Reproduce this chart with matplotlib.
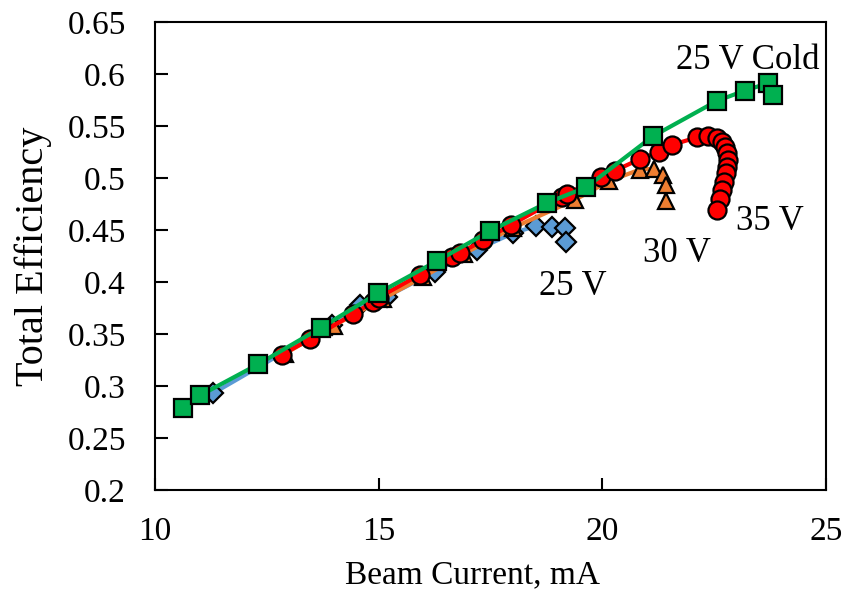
import matplotlib
matplotlib.use("Agg")
import matplotlib.pyplot as plt

plt.rcParams["font.family"] = ["Liberation Serif", "DejaVu Serif"]

# 25 V (blue diamonds)
i25 = [11.30, 13.95, 14.58, 15.18, 16.26, 17.19, 18.01, 18.53, 18.87, 19.17, 19.19]
e25 = [0.293, 0.359, 0.378, 0.386, 0.410, 0.431, 0.447, 0.454, 0.453, 0.452, 0.438]

# 30 V (orange triangles)
i30 = [12.90, 14.00, 15.10, 16.00, 16.90, 18.00, 19.39, 20.15, 20.84, 21.16, 21.36, 21.42, 21.42]
e30 = [0.331, 0.358, 0.384, 0.405, 0.427, 0.452, 0.479, 0.497, 0.508, 0.509, 0.503, 0.493, 0.478]

# 35 V (red circles)
i35 = [12.83, 13.47, 14.43, 14.88, 15.00, 15.92, 16.63, 16.82, 17.34, 17.97, 19.09, 19.22,
       19.98, 20.28, 20.84, 21.27, 21.57, 22.12, 22.37, 22.56, 22.67, 22.74, 22.79, 22.81,
       22.79, 22.77, 22.72, 22.67, 22.63, 22.57]
e35 = [0.330, 0.345, 0.369, 0.381, 0.385, 0.407, 0.424, 0.428, 0.440, 0.455, 0.482, 0.485,
       0.501, 0.507, 0.518, 0.525, 0.532, 0.539, 0.540, 0.538, 0.535, 0.530, 0.524, 0.517,
       0.511, 0.505, 0.496, 0.488, 0.480, 0.469]

# 25 V Cold (green squares)
icold = [10.63, 11.01, 12.31, 13.71, 14.98, 16.30, 17.49, 18.76, 19.64, 21.13, 22.56, 23.19, 23.70, 23.81]
ecold = [0.279, 0.291, 0.321, 0.356, 0.389, 0.420, 0.449, 0.476, 0.491, 0.540, 0.574, 0.584, 0.591, 0.580]

fig = plt.figure(figsize=(8.47, 5.93), dpi=100)
ax = fig.add_axes([0.183, 0.1737, 0.792, 0.7893])

ax.plot(i25, e25, color="#5B9BD5", lw=3, marker="D", ms=10.5, mfc="#5B9BD5", mec="black", mew=1.6)
ax.plot(i30, e30, color="#ED7D31", lw=3, marker="^", ms=12, mfc="#ED7D31", mec="black", mew=1.6)
ax.plot(i35, e35, color="#FF0000", lw=3, marker="o", ms=13, mfc="#FF0000", mec="black", mew=1.6)
ax.plot(icold, ecold, color="#00B050", lw=3, marker="s", ms=13.5, mfc="#00B050", mec="black", mew=1.6)

# curve labels
ax.text(19.35, 0.396, "25 V", fontsize=25, ha="center", va="center")
ax.text(21.66, 0.427, "30 V", fontsize=25, ha="center", va="center")
ax.text(23.75, 0.458, "35 V", fontsize=25, ha="center", va="center")
ax.text(23.25, 0.613, "25 V Cold", fontsize=25, ha="center", va="center")

ax.set_xlim(10, 25)
ax.set_ylim(0.2, 0.65)
ax.set_xticks([10, 15, 20, 25])
ax.set_yticks([0.2, 0.25, 0.3, 0.35, 0.4, 0.45, 0.5, 0.55, 0.6, 0.65])
ax.set_yticklabels(["0.2", "0.25", "0.3", "0.35", "0.4", "0.45", "0.5", "0.55", "0.6", "0.65"])
ax.tick_params(direction="in", length=9, width=1.5, labelsize=24)
ax.tick_params(axis="x", pad=19)
ax.tick_params(axis="y", pad=21)
for s in ax.spines.values():
    s.set_linewidth(1.5)

ax.set_xlabel("Beam Current, mA", fontsize=24, labelpad=9, x=0.473)
ax.set_ylabel("Total Efficiency", fontsize=29, labelpad=11)

fig.savefig("out.png", dpi=100)
